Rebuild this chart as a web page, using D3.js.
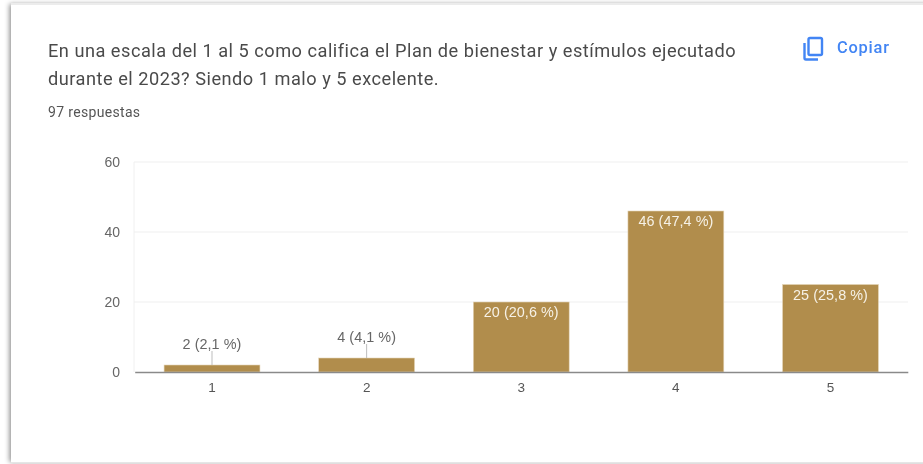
<!DOCTYPE html>
<html><head><meta charset="utf-8">
<script src="https://cdn.jsdelivr.net/npm/d3@7"></script>
<style>
html,body{margin:0;padding:0;background:#fff;width:923px;height:464px;overflow:hidden}
svg{display:block;filter:blur(0.45px)}
text{font-family:Roboto,Arial,sans-serif}
.c{font-family:"Liberation Sans",Arial,sans-serif}
</style></head><body>
<svg id="chart" width="923" height="464"></svg>
<script>
const categories = ["1","2","3","4","5"];
const counts = [2,4,20,46,25];
const percents = ["2,1","4,1","20,6","47,4","25,8"];
const yTicks = [0,20,40,60];
const titleLines = ["En una escala del 1 al 5 como califica el Plan de bienestar y estímulos ejecutado","durante el 2023? Siendo 1 malo y 5 excelente."];
const subtitle = "97 respuestas";
const copyLabel = "Copiar";

const svg = d3.select("#chart");
const defs = svg.append("defs");
const f = defs.append("filter").attr("id","sh").attr("x","-5%").attr("y","-5%").attr("width","110%").attr("height","110%");
f.append("feDropShadow").attr("dx",-1.5).attr("dy",0).attr("stdDeviation",2.4).attr("flood-color","#000").attr("flood-opacity",0.45);

svg.append("rect").attr("x",11).attr("y",4).attr("width",930).attr("height",458)
  .attr("fill","#fff").attr("filter","url(#sh)");
svg.append("rect").attr("x",11).attr("y",3).attr("width",912).attr("height",2).attr("fill","#ececec");
svg.append("rect").attr("x",11).attr("y",462).attr("width",912).attr("height",1).attr("fill","#e6e6e6");

svg.selectAll("text.t").data(titleLines).join("text").attr("class","t")
  .attr("x",48).attr("y",(d,i)=>57+i*28).attr("font-size",18.2).attr("letter-spacing",0.5).attr("fill","#4a4a4a").text(d=>d);
svg.append("text").attr("x",48).attr("y",117).attr("font-size",14).attr("letter-spacing",0.33).attr("fill","#555").text(subtitle);

// copy icon
const ic = svg.append("g").attr("fill","none").attr("stroke","#4285f4").attr("stroke-width",2.4);
ic.append("rect").attr("x",808.5).attr("y",38).attr("width",13.5).attr("height",17).attr("rx",1.5);
ic.append("path").attr("d","M804.5 43 V58 a1.5 1.5 0 0 0 1.5 1.5 H818");
svg.append("text").attr("x",837).attr("y",53).attr("font-size",16.4).attr("font-weight",500).attr("letter-spacing",0.8).attr("fill","#4285f4").text(copyLabel);

const x = d3.scaleBand().domain(categories).range([134.7,907.8]).paddingInner(0.38).paddingOuter(0.19);
const y = d3.scaleLinear().domain([0,60]).range([372,162]);

const grid = svg.append("g");
grid.selectAll("line").data(yTicks.filter(d=>d>0)).join("line")
  .attr("x1",134).attr("x2",908).attr("y1",d=>y(d)).attr("y2",d=>y(d)).attr("stroke","#efefef");
grid.append("line").attr("x1",134).attr("x2",134).attr("y1",162).attr("y2",372).attr("stroke","#f0f0f0");

const yAxis = svg.append("g").attr("transform","translate(134,0)").call(d3.axisLeft(y).tickValues(yTicks).tickSize(0).tickPadding(14));
yAxis.select(".domain").remove();
yAxis.selectAll("text").attr("class","c").attr("font-size",14).attr("fill","#666");

svg.selectAll("rect.bar").data(counts).join("rect").attr("class","bar")
  .attr("x",(d,i)=>x(categories[i])).attr("width",x.bandwidth())
  .attr("y",d=>y(d)).attr("height",d=>y(0)-y(d)).attr("fill","#b18d4c")
  .attr("stroke","#e4d5b8").attr("stroke-width",0.6);

const xAxis = svg.append("g").attr("transform","translate(0,372)").call(d3.axisBottom(x).tickSize(0).tickPadding(10));
xAxis.select(".domain").attr("stroke","#8a8a8a").attr("stroke-width",1.6);
xAxis.selectAll("text").attr("class","c").attr("font-size",13.5).attr("fill","#555");

const label = (d,i)=>`${d} (${percents[i]} %)`;
const cx = i=>x(categories[i])+x.bandwidth()/2;
svg.selectAll("text.v").data(counts).join("text").attr("class","v c")
  .attr("text-anchor","middle").attr("font-size",14.4).attr("letter-spacing",0.05)
  .attr("x",(d,i)=>cx(i))
  .attr("y",d=>d<10 ? y(d)-16 : y(d)+15)
  .attr("fill",d=>d<10 ? "#666" : "#f6f1e6")
  .text(label);
svg.selectAll("line.lead").data(counts.filter(d=>d<10)).join("line").attr("class","lead")
  .attr("x1",(d,i)=>cx(i)).attr("x2",(d,i)=>cx(i))
  .attr("y1",d=>y(d)).attr("y2",d=>y(d)-14).attr("stroke","#bdbdbd");
</script></body></html>
